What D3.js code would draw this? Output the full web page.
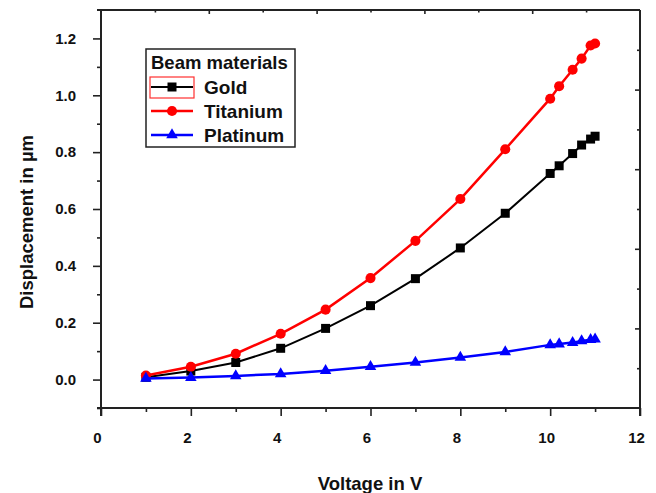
<!DOCTYPE html>
<html>
<head>
<meta charset="utf-8">
<script src="https://cdn.jsdelivr.net/npm/d3@7"></script>
<style>
  html, body { margin: 0; padding: 0; background: #fff; }
  svg { display: block; }
  text { font-family: "Liberation Sans", Arial, sans-serif; }
</style>
</head>
<body>
<svg id="chart" width="656" height="493"></svg>
<script>
// ---- data ----
const voltage = [1, 2, 3, 4, 5, 6, 7, 8, 9, 10, 10.2, 10.5, 10.7, 10.9, 11.0];
const gold     = [0.008, 0.030, 0.060, 0.110, 0.180, 0.260, 0.355, 0.463, 0.585, 0.725, 0.752, 0.795, 0.825, 0.846, 0.856];
const titanium = [0.014, 0.045, 0.091, 0.161, 0.246, 0.357, 0.488, 0.635, 0.810, 0.988, 1.032, 1.090, 1.129, 1.175, 1.182];
const platinum = [0.004, 0.007, 0.013, 0.020, 0.031, 0.045, 0.060, 0.078, 0.097, 0.122, 0.125, 0.130, 0.136, 0.140, 0.142];
const seriesNames = ["Gold", "Titanium", "Platinum"];
const legendTitle = "Beam materials";
const xTicksMajor = [0, 2, 4, 6, 8, 10, 12];
const xTicksMinor = [1, 3, 5, 7, 9, 11];
const yTicksMajor = [0.0, 0.2, 0.4, 0.6, 0.8, 1.0, 1.2];
const yTicksMinor = [-0.1, 0.1, 0.3, 0.5, 0.7, 0.9, 1.1];
const mirrorMajor = [2, 4, 6, 8];
const mirrorMinor = [1, 3, 5, 7, 9];
const xTitle = "Voltage in V";
const yTitle = "Displacement in µm";

// ---- layout ----
const svg = d3.select("#chart");
const L = 101, R = 640, T = 10, B = 408;
const x = d3.scaleLinear().domain([0, 12]).range([L, R]);
const y = d3.scaleLinear().domain([-0.1, 1.3]).range([B, T]);
const mx = d3.scaleLinear().domain([0, 10]).range([L, R]);
const my = d3.scaleLinear().domain([0, 10]).range([B, T]);
const axisColor = "#222";
const fmt = d3.format(".1f");

function styleAxis(g) {
  g.selectAll(".domain").remove();
  g.selectAll("line").attr("stroke", axisColor).attr("stroke-width", 1.6);
  g.selectAll("text")
    .attr("fill", "#111")
    .style("font-family", "'Liberation Sans', Arial, sans-serif")
    .style("font-weight", "bold")
    .style("font-size", "15px");
}

// left axis
svg.append("g").attr("transform", `translate(${L},0)`)
  .call(d3.axisLeft(y).tickValues(yTicksMajor).tickFormat(fmt).tickSize(8).tickPadding(17))
  .call(styleAxis);
svg.append("g").attr("transform", `translate(${L},0)`)
  .call(d3.axisLeft(y).tickValues(yTicksMinor).tickFormat("").tickSize(4))
  .call(styleAxis);
// bottom axis
svg.append("g").attr("transform", `translate(0,${B})`)
  .call(d3.axisBottom(x).tickValues(xTicksMajor).tickFormat(d3.format("d")).tickSize(8).tickPadding(16))
  .call(styleAxis)
  .call(g => g.selectAll("text").attr("dx", -4));
svg.append("g").attr("transform", `translate(0,${B})`)
  .call(d3.axisBottom(x).tickValues(xTicksMinor).tickFormat("").tickSize(4))
  .call(styleAxis);
// top mirror axis (inward ticks)
svg.append("g").attr("transform", `translate(0,${T})`)
  .call(d3.axisTop(mx).tickValues(mirrorMajor).tickFormat("").tickSize(-4))
  .call(styleAxis);
svg.append("g").attr("transform", `translate(0,${T})`)
  .call(d3.axisTop(mx).tickValues(mirrorMinor).tickFormat("").tickSize(-2.5))
  .call(styleAxis);
// right mirror axis (inward ticks)
svg.append("g").attr("transform", `translate(${R},0)`)
  .call(d3.axisRight(my).tickValues(mirrorMajor).tickFormat("").tickSize(-5))
  .call(styleAxis);
svg.append("g").attr("transform", `translate(${R},0)`)
  .call(d3.axisRight(my).tickValues(mirrorMinor).tickFormat("").tickSize(-3))
  .call(styleAxis);

// frame
const frame = svg.append("g").attr("stroke", axisColor).attr("stroke-width", 2).attr("fill", "none");
frame.append("line").attr("x1", L - 4).attr("x2", R).attr("y1", T).attr("y2", T);
frame.append("line").attr("x1", L - 4).attr("x2", R + 1).attr("y1", B).attr("y2", B);
frame.append("line").attr("x1", L).attr("x2", L).attr("y1", T).attr("y2", B + 8);
frame.append("line").attr("x1", R).attr("x2", R).attr("y1", T).attr("y2", B + 8);

// series
const series = [
  { name: seriesNames[0], values: gold,     color: "#000000", symbol: d3.symbolSquare,   size: 81, width: 2 },
  { name: seriesNames[1], values: titanium, color: "#ff0000", symbol: d3.symbolCircle,   size: 80, width: 2.5 },
  { name: seriesNames[2], values: platinum, color: "#0000ff", symbol: d3.symbolTriangle, size: 58, width: 2.5 }
];
const line = d3.line().x(d => x(d[0])).y(d => y(d[1]));
series.forEach(s => {
  const pts = voltage.map((v, i) => [v, s.values[i]]);
  svg.append("path").datum(pts)
    .attr("d", line).attr("fill", "none")
    .attr("stroke", s.color).attr("stroke-width", s.width);
  svg.append("g").selectAll("path").data(pts).join("path")
    .attr("transform", d => `translate(${x(d[0])},${y(d[1])})`)
    .attr("d", d3.symbol().type(s.symbol).size(s.size))
    .attr("fill", s.color);
});

// legend
const lg = svg.append("g");
lg.append("rect").attr("x", 146).attr("y", 49).attr("width", 149).attr("height", 98)
  .attr("fill", "#fff").attr("stroke", "#222").attr("stroke-width", 1.5);
lg.append("text").attr("x", 151).attr("y", 69)
  .style("font-weight", "bold").style("font-size", "18.5px").attr("fill", "#111")
  .text(legendTitle);
const rowY = [87, 111, 135];
series.forEach((s, i) => {
  const yy = rowY[i];
  lg.append("line").attr("x1", 151).attr("x2", 193).attr("y1", yy).attr("y2", yy)
    .attr("stroke", s.color).attr("stroke-width", s.width);
  lg.append("path").attr("transform", `translate(172,${yy})`)
    .attr("d", d3.symbol().type(s.symbol).size(s.size)).attr("fill", s.color);
  lg.append("text").attr("x", 204).attr("y", yy + 7)
    .style("font-weight", "bold").style("font-size", "19px").attr("fill", "#111")
    .text(s.name);
});
// selection highlight around first legend sample
lg.append("rect").attr("x", 150).attr("y", 77).attr("width", 44).attr("height", 21)
  .attr("fill", "none").attr("stroke", "#ff3030").attr("stroke-width", 1.2);

// axis titles
svg.append("text").attr("x", 370).attr("y", 490).attr("text-anchor", "middle")
  .style("font-weight", "bold").style("font-size", "18.5px").attr("fill", "#111")
  .text(xTitle);
svg.append("text").attr("transform", "translate(33,222) rotate(-90)").attr("text-anchor", "middle")
  .style("font-weight", "bold").style("font-size", "18.5px").attr("fill", "#111")
  .text(yTitle);
</script>
</body>
</html>
